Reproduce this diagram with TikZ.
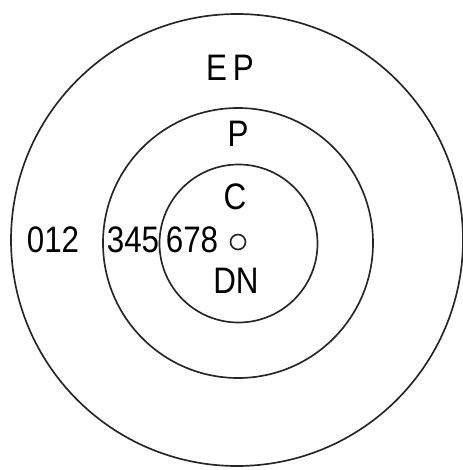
\documentclass[tikz,border=0pt]{standalone}
\usepackage{fontspec}
\setmainfont[FakeStretch=0.85]{Liberation Sans}
\usetikzlibrary{positioning}

\begin{document}
\begin{tikzpicture}[x=0.02cm,y=-0.02cm,
  ring/.style={draw=black!85,line width=0.95pt},
  lbl/.style={inner sep=0pt,font=\fontsize{21}{24}\selectfont}]
  \useasboundingbox (0,0) rectangle (463,470);
  \coordinate (O) at (238,242);
  \draw[ring] (237,240) circle[radius=226];
  \draw[ring] (238,243) circle[radius=135];
  \draw[ring] (238.5,243.5) circle[radius=79];
  \node[ring,circle,minimum size=0.3cm,inner sep=0pt](dot) at (O) {};
  \node[lbl](EP) at (230,68) {E\hspace{0.16em}P};
  \node[lbl](P) at (238,134) {P};
  \node[lbl](C) at (235,197) {C};
  \node[lbl](DN) at (236,281) {DN};
  \node[lbl](six) at (192,240) {678};
  \node[lbl](three) at (133,240) {345};
  \node[lbl](zero) at (53,240) {012};
\end{tikzpicture}
\end{document}
